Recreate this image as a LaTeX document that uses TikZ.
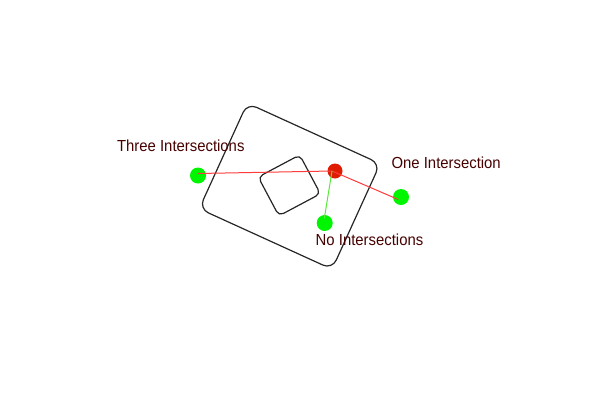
\documentclass[tikz,border=0pt]{standalone}
\usepackage{xcolor}
\usepackage{fontspec}
\newfontfamily\labelfont[FakeStretch=0.93]{Liberation Sans}
\usetikzlibrary{positioning}
\definecolor{dotred}{RGB}{224,28,0}
\definecolor{dotgreen}{RGB}{0,245,0}
\definecolor{labelcol}{RGB}{70,0,0}
\definecolor{rayred}{RGB}{255,60,60}
\definecolor{raygreen}{RGB}{90,230,60}

\begin{document}
\begin{tikzpicture}[x=1pt,y=-1pt,
    region/.style={draw=black!85,line width=1.2pt,rounded corners=#1,inner sep=0pt},
    dot/.style={circle,inner sep=0pt,minimum size=16pt},
    lbl/.style={text=labelcol,font=\labelfont\fontsize{16}{18}\selectfont,anchor=base,inner sep=0pt}]
      \useasboundingbox (0,0) rectangle (600,400);

      % Define the two regions
      \node[region=10pt,minimum width=146pt,minimum height=116pt,rotate=-24.5] (outer) at (289.7,186.2) {};
      \node[region=5pt,minimum width=47pt,minimum height=44pt,rotate=28] (inner) at (289.3,185.4) {};

      % Define the end points of the rays
      \coordinate (o) at (332,171);
      \coordinate (t) at (198,173.5);
      \coordinate (e) at (398.3,199.5);
      \coordinate (n) at (324.3,218.5);

      % Define the points
      \node[dot,fill=dotred,minimum size=15pt] (src) at (335,171) {};
      \node[dot,fill=dotgreen] (three) at (198,175.5) {};
      \node[dot,fill=dotgreen] (one) at (401,197) {};
      \node[dot,fill=dotgreen] (none) at (324.7,223) {};

      % Draw the rays
      \draw[rayred,line width=1pt] (o) -- (t);
      \draw[rayred,line width=1pt] (o) -- (e);
      \draw[raygreen,line width=1pt] (o) -- (n);

      % Define the labels
      \node[lbl] (threelbl) at (180.8,151.7) {Three Intersections};
      \node[lbl] (onelbl) at (446.2,168.3) {One Intersection};
      \node[lbl] (nonelbl) at (369.5,245) {No Intersections};
\end{tikzpicture}
\end{document}
